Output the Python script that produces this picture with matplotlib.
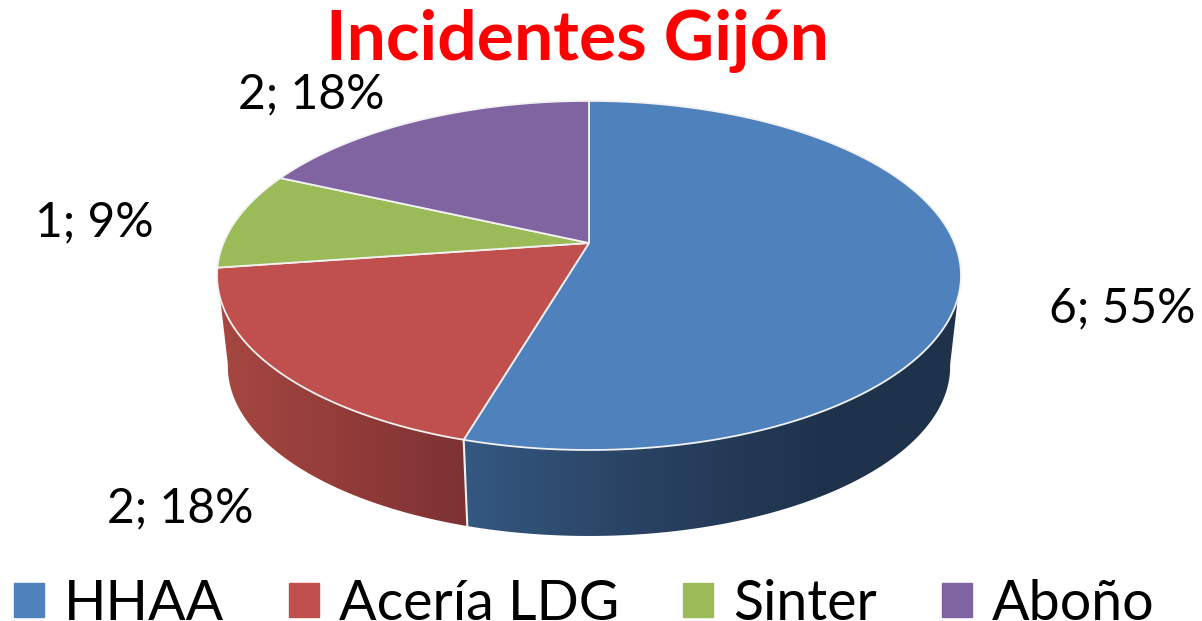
import matplotlib
matplotlib.use("Agg")
import matplotlib.pyplot as plt
from matplotlib.patches import Patch, Polygon
import numpy as np

# Datos
categorias = ["HHAA", "Acería LDG", "Sinter", "Aboño"]
valores = [6, 2, 1, 2]
colores = ["#4F81BD", "#C0504D", "#9BBB59", "#8064A2"]
titulo = "Incidentes Gijón"

plt.rcParams["font.family"] = ["Lato", "DejaVu Sans"]

fig = plt.figure(figsize=(12.02, 6.21), dpi=100)
ax = fig.add_axes([0, 0, 1, 1])
ax.axis("off")

# Perspectiva del disco: cara superior y cara inferior
CX, CY = 589, 243
A, S, K = 365.5, 168.5, 0.186
ALTO, ESCALA = 92, 1.03
# Angulos donde el lateral deja de verse, arriba y abajo
SIL_ARRIBA = np.radians(108)
SIL_ABAJO = np.radians(100)


def proyectar(t, abajo=False):
    X, Y = np.sin(t), np.cos(t)
    w = 1 + K * Y
    if abajo:
        w = w * ESCALA
    return CX + A * X / w, (CY + ALTO if abajo else CY) - S * Y / w


# Angulos de cada porcion, en sentido horario desde arriba
bordes = np.concatenate([[0], np.cumsum(valores)]) / sum(valores) * 2 * np.pi

# Degradado del lateral segun la posicion x
x_grad = np.arange(200, 1000)
lat_azul = np.array([np.interp(x_grad, [467, 640, 830], c) for c in [(52, 41, 30), (88, 66, 50), (128, 98, 75)]]).T
lat_rojo = np.array([np.interp(x_grad, [228, 467], c) for c in [(165, 125), (70, 50), (64, 50)]]).T

# Lateral de HHAA y Acería LDG
tramos = [
    (SIL_ARRIBA, bordes[1], SIL_ABAJO, bordes[1], lat_azul),
    (bordes[1], 2 * np.pi - SIL_ARRIBA, bordes[1], 2 * np.pi - SIL_ABAJO, lat_rojo),
]
for a0, a1, b0, b1, grad in tramos:
    xa, ya = proyectar(np.linspace(a0, a1, 200))
    xb, yb = proyectar(np.linspace(b0, b1, 200), abajo=True)
    borde = np.column_stack([np.r_[xa, xb[::-1]], np.r_[ya, yb[::-1]]])
    forma = Polygon(borde, closed=True, fc="none", ec="none", transform=ax.transData)
    ax.add_patch(forma)
    img = ax.imshow(
        grad[np.newaxis, :] / 255,
        extent=(x_grad[0], x_grad[-1], 560, 250),
        aspect="auto",
        interpolation="bilinear",
    )
    img.set_clip_path(forma)

# Linea blanca entre los dos laterales
xa, ya = proyectar(bordes[1])
xb, yb = proyectar(bordes[1], abajo=True)
ax.plot([xa, xb], [ya, yb], color="#f2f2f2", lw=1.5)

# Cara superior
for i in range(len(valores)):
    ts = np.linspace(bordes[i], bordes[i + 1], 200)
    xs, ys = proyectar(ts)
    ax.fill(np.r_[CX, xs], np.r_[CY, ys], color=colores[i], ec="#f2f2f2", lw=1.3, joinstyle="round")

ax.set_xlim(0, 1202)
ax.set_ylim(621, 0)

# Etiquetas de datos
total = sum(valores)
pos_etiquetas = [(1122, 308), (180, 508), (94, 222), (311, 94)]
for v, (x, y) in zip(valores, pos_etiquetas):
    ax.text(x, y, f"{v}; {round(v / total * 100)}%", fontsize=34.5, ha="center", va="center", color="black")

# Titulo
ax.text(577, 41, titulo, fontsize=50, fontweight="bold", color="#FF0000", ha="center", va="center")

# Leyenda
handles = [Patch(color=c) for c in colores]
ax.legend(
    handles,
    categorias,
    ncols=4,
    loc="lower left",
    bbox_to_anchor=(14 / 1202, -0.014),
    borderaxespad=0,
    borderpad=0,
    frameon=False,
    fontsize=40,
    handlelength=0.54,
    handleheight=0.54,
    handletextpad=0.36,
    columnspacing=1.16,
)

fig.savefig("out.png", dpi=100)
